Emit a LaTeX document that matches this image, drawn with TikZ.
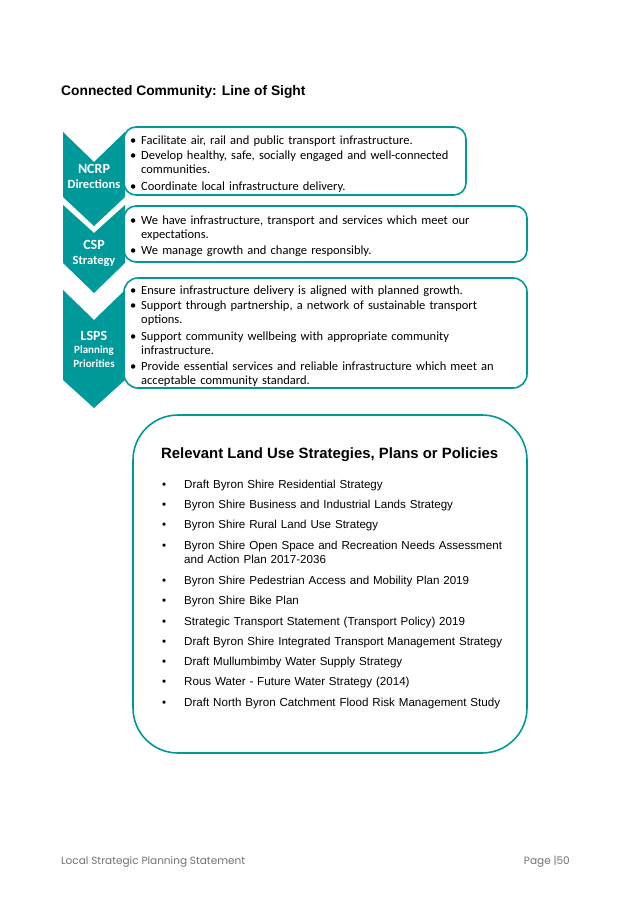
\documentclass[tikz,border=0pt]{standalone}
\usepackage{fontspec}
\setmainfont{Carlito}
\newfontfamily\arialfont{Liberation Sans}
\newfontfamily\footfont{Poppins}
\definecolor{teal}{RGB}{0,153,153}
\newcommand{\bul}[1]{\par\noindent\makebox[11pt][l]{\textbullet}\begin{tabular}[t]{@{}l@{}}#1\end{tabular}\par\vspace{1.5pt}}
\newcommand{\ritem}[1]{\par\noindent\makebox[22pt][l]{\textbullet}\begin{tabular}[t]{@{}l@{}}#1\end{tabular}\par\vspace{6.3pt}}
\begin{document}
\begin{tikzpicture}[x=1pt,y=-1pt]
        % Define styles
        \tikzset{chev/.style={fill=teal, draw=none},
          infobox/.style={draw=teal, line width=1.6pt, fill=white},
          boxtext/.style={anchor=north west, inner sep=0pt, text width=400pt, font=\fontsize{12.5}{14}\selectfont},
          chevlabel/.style={text=white, inner sep=0pt},
          foot/.style={text=black!55, font=\footfont\fontsize{10.5}{12}\selectfont, inner sep=0pt}}
        \useasboundingbox (0,0) rectangle (637,902);
        \fill[white] (0,0) rectangle (637,902);

        % Heading
        \node[anchor=west, inner sep=0pt, font=\arialfont\bfseries\fontsize{13.8}{16}\selectfont] (head) at (61,92) {Connected Community: Line of Sight};

        % Chevrons
        \fill[chev] (63,132) -- (94,162) -- (125,132) -- (125,197) -- (94,226) -- (63,197) -- cycle;
        \fill[chev] (63,205) -- (94,233) -- (125,205) -- (125,263) -- (94,293) -- (63,263) -- cycle;
        \fill[chev] (63,290) -- (94,320) -- (125,290) -- (125,380) -- (94,408) -- (63,380) -- cycle;

        % Boxes
        \draw[infobox, rounded corners=12pt] (466,160) -- (466,195) -- (124,195) -- (124,127) -- (466,127) -- cycle;
        \draw[infobox, rounded corners=12pt] (527,234) -- (527,262) -- (124,262) -- (124,206) -- (527,206) -- cycle;
        \draw[infobox, rounded corners=14pt] (527,330) -- (527,388) -- (124,388) -- (124,278) -- (527,278) -- cycle;

        % Chevron labels
        \node[chevlabel, font=\bfseries\fontsize{14}{16}\selectfont] (ncrp) at (94,169) {NCRP};
        \node[chevlabel, font=\bfseries\fontsize{12.5}{14}\selectfont] (ncrpsub) at (94,184) {Directions};
        \node[chevlabel, font=\bfseries\fontsize{14}{16}\selectfont] (csp) at (94,245) {CSP};
        \node[chevlabel, font=\bfseries\fontsize{12.5}{14}\selectfont] (cspsub) at (94,261) {Strategy};
        \node[chevlabel, font=\bfseries\fontsize{14}{16}\selectfont] (lsps) at (94,336) {LSPS};
        \node[chevlabel, font=\bfseries\fontsize{11}{13}\selectfont] (lspsa) at (94,351) {Planning};
        \node[chevlabel, font=\bfseries\fontsize{11}{13}\selectfont] (lspsb) at (94,364) {Priorities};

        % Box texts
        \node[boxtext] (ncrptext) at (130,130) {%
          \bul{Facilitate air, rail and public transport infrastructure.}
          \bul{Develop healthy, safe, socially engaged and well-connected\\communities.}
          \bul{Coordinate local infrastructure delivery.}};
        \node[boxtext] (csptext) at (130,210) {%
          \bul{We have infrastructure, transport and services which meet our\\expectations.}
          \bul{We manage growth and change responsibly.}};
        \node[boxtext] (lspstext) at (130,280) {%
          \bul{Ensure infrastructure delivery is aligned with planned growth.}
          \bul{Support through partnership, a network of sustainable transport\\options.}
          \bul{Support community wellbeing with appropriate community\\infrastructure.}
          \bul{Provide essential services and reliable infrastructure which meet an\\acceptable community standard.}};

        % Relevant strategies box
        \draw[infobox, rounded corners=45pt] (133,415) rectangle (527,753);
        \node[anchor=west, inner sep=0pt, font=\arialfont\bfseries\fontsize{14.9}{17}\selectfont] (reltitle) at (161,455) {Relevant Land Use Strategies, Plans or Policies};
        \node[anchor=north west, inner sep=0pt, text width=360pt, font=\arialfont\fontsize{11.6}{14}\selectfont] (rellist) at (162,474) {%
          \ritem{Draft Byron Shire Residential Strategy}
          \ritem{Byron Shire Business and Industrial Lands Strategy}
          \ritem{Byron Shire Rural Land Use Strategy}
          \ritem{Byron Shire Open Space and Recreation Needs Assessment\\and Action Plan 2017-2036}
          \ritem{Byron Shire Pedestrian Access and Mobility Plan 2019}
          \ritem{Byron Shire Bike Plan}
          \ritem{Strategic Transport Statement (Transport Policy) 2019}
          \ritem{Draft Byron Shire Integrated Transport Management Strategy}
          \ritem{Draft Mullumbimby Water Supply Strategy}
          \ritem{Rous Water - Future Water Strategy (2014)}
          \ritem{Draft North Byron Catchment Flood Risk Management Study}};

        % Footer
        \node[foot, anchor=west] (footl) at (61,862) {Local Strategic Planning Statement};
        \node[foot, anchor=east] (footr) at (570,862) {Page |50};
      \end{tikzpicture}
\end{document}
